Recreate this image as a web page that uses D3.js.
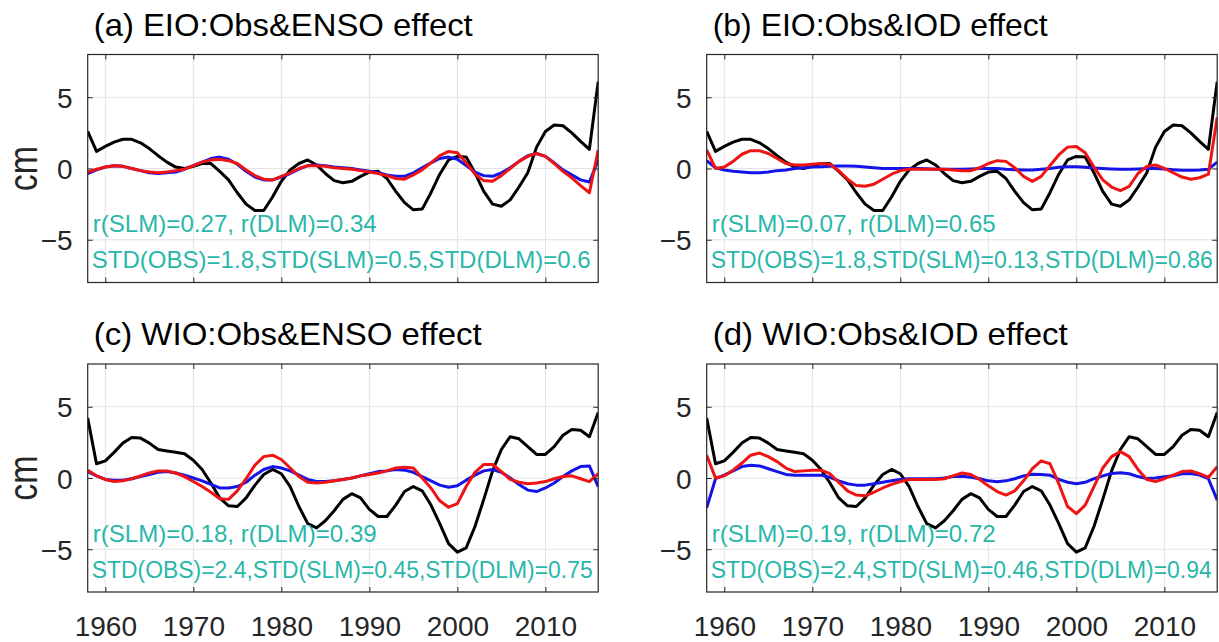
<!DOCTYPE html>
<html>
<head>
<meta charset="utf-8">
<script src="https://cdn.jsdelivr.net/npm/d3@7"></script>
<style>
  body { margin: 0; background: #fff; }
  svg text { font-family: "Liberation Sans", Arial, Helvetica, sans-serif; }
</style>
</head>
<body>
<svg id="chart" width="1219" height="642"></svg>
<script>
// yearly values, 1958-2016
const years = [1958,1959,1960,1961,1962,1963,1964,1965,1966,1967,1968,1969,1970,1971,1972,1973,1974,1975,1976,1977,
  1978,1979,1980,1981,1982,1983,1984,1985,1986,1987,1988,1989,1990,1991,1992,1993,1994,1995,1996,1997,
  1998,1999,2000,2001,2002,2003,2004,2005,2006,2007,2008,2009,2010,2011,2012,2013,2014,2015,2016];

const eioObs = [2.6,1.2,1.55,1.85,2.05,2.05,1.8,1.4,0.9,0.45,0.1,0.0,0.15,0.35,0.35,-0.2,-0.8,-1.7,-2.5,-2.95,
  -2.95,-2.0,-0.9,-0.1,0.35,0.6,0.25,-0.35,-0.85,-1.0,-0.9,-0.55,-0.25,-0.2,-0.7,-1.6,-2.4,-2.9,-2.85,-1.7,
  -0.4,0.6,0.85,0.8,-0.3,-1.6,-2.5,-2.65,-2.2,-1.3,-0.3,1.5,2.6,3.05,3.0,2.5,1.9,1.35,6.1];
const eioEnsoSlm = [-0.35,-0.1,0.1,0.2,0.15,0.0,-0.15,-0.3,-0.35,-0.3,-0.25,-0.05,0.2,0.45,0.7,0.8,0.65,0.3,-0.2,-0.6,
  -0.8,-0.8,-0.6,-0.35,-0.05,0.2,0.25,0.2,0.1,0.05,0.0,-0.1,-0.2,-0.3,-0.45,-0.55,-0.55,-0.3,0.05,0.4,
  0.7,0.8,0.65,0.2,-0.25,-0.5,-0.55,-0.3,0.05,0.5,0.9,1.05,0.85,0.4,-0.1,-0.45,-0.8,-0.95,0.6];
const eioEnsoDlm = [-0.25,-0.05,0.1,0.2,0.15,0.0,-0.15,-0.25,-0.3,-0.25,-0.15,-0.05,0.2,0.45,0.6,0.65,0.55,0.35,-0.1,-0.5,
  -0.75,-0.8,-0.55,-0.3,0.0,0.2,0.2,0.15,0.05,0.0,-0.05,-0.15,-0.25,-0.35,-0.5,-0.7,-0.75,-0.45,-0.1,0.4,
  0.9,1.2,1.1,0.4,-0.4,-0.85,-0.9,-0.5,0.0,0.5,0.85,1.05,0.85,0.35,-0.2,-0.65,-1.2,-1.7,1.3];
const eioIodSlm = [0.55,0.05,-0.1,-0.2,-0.25,-0.3,-0.3,-0.25,-0.15,-0.1,0.0,0.05,0.1,0.12,0.15,0.17,0.17,0.15,0.1,0.05,
  0.0,0.0,0.0,0.0,0.0,-0.02,-0.05,-0.05,-0.05,-0.05,-0.03,0.0,0.0,0.0,-0.05,-0.08,-0.1,-0.1,-0.05,0.0,
  0.08,0.12,0.12,0.08,0.03,0.0,-0.03,-0.05,-0.05,-0.03,0.0,0.0,-0.03,-0.08,-0.12,-0.12,-0.1,-0.05,0.45];
const eioIodDlm = [1.3,0.0,0.1,0.5,1.0,1.25,1.25,1.05,0.7,0.35,0.25,0.25,0.3,0.35,0.3,-0.15,-0.75,-1.2,-1.25,-1.1,
  -0.75,-0.4,-0.15,-0.05,-0.05,-0.05,-0.05,-0.05,-0.1,-0.15,-0.15,0.05,0.35,0.55,0.5,0.05,-0.55,-0.9,-0.55,0.2,
  0.95,1.5,1.55,1.1,0.1,-0.8,-1.3,-1.55,-1.25,-0.35,0.15,0.25,0.0,-0.3,-0.6,-0.75,-0.65,-0.4,3.6];

const wioObs = [4.2,1.0,1.2,1.8,2.45,2.85,2.8,2.45,2.0,1.9,1.8,1.7,1.25,0.6,-0.35,-1.4,-1.95,-2.0,-1.4,-0.5,
  0.25,0.6,0.3,-0.6,-2.0,-3.2,-3.5,-3.0,-2.3,-1.5,-1.1,-1.4,-2.2,-2.7,-2.7,-1.9,-0.95,-0.6,-0.9,-1.9,
  -3.2,-4.6,-5.2,-4.9,-3.4,-1.5,0.5,2.0,2.9,2.75,2.2,1.65,1.65,2.2,3.0,3.4,3.35,2.9,4.6];
const wioEnsoSlm = [0.45,0.15,-0.1,-0.15,-0.15,-0.05,0.1,0.25,0.4,0.45,0.35,0.2,0.0,-0.2,-0.45,-0.7,-0.7,-0.6,-0.3,0.2,
  0.6,0.8,0.7,0.5,0.2,-0.1,-0.25,-0.25,-0.2,-0.1,0.0,0.15,0.3,0.45,0.5,0.6,0.55,0.4,0.1,-0.2,
  -0.5,-0.65,-0.55,-0.15,0.2,0.5,0.6,0.4,0.0,-0.45,-0.85,-0.95,-0.7,-0.35,0.1,0.5,0.8,0.85,-0.6];
const wioEnsoDlm = [0.55,0.15,-0.1,-0.25,-0.2,-0.05,0.15,0.35,0.5,0.5,0.35,0.1,-0.25,-0.6,-1.0,-1.45,-1.5,-0.9,-0.05,0.9,
  1.5,1.6,1.3,0.7,0.1,-0.3,-0.35,-0.3,-0.2,-0.1,0.0,0.15,0.25,0.35,0.5,0.7,0.75,0.7,0.0,-0.7,
  -1.6,-2.05,-1.8,-0.6,0.4,0.95,0.95,0.45,-0.1,-0.3,-0.4,-0.35,-0.25,-0.05,0.1,0.15,-0.05,-0.25,0.3];
const wioIodSlm = [-2.1,-0.05,0.2,0.5,0.8,0.9,0.85,0.65,0.45,0.25,0.2,0.2,0.2,0.2,0.05,-0.2,-0.4,-0.5,-0.5,-0.4,
  -0.3,-0.2,-0.1,-0.05,-0.05,-0.05,-0.05,0.0,0.1,0.12,0.05,-0.05,-0.2,-0.27,-0.2,-0.05,0.15,0.27,0.25,0.2,
  -0.1,-0.3,-0.4,-0.3,-0.05,0.15,0.32,0.37,0.3,0.1,-0.03,0.0,0.08,0.15,0.3,0.32,0.2,-0.05,-1.55];
const wioIodDlm = [1.6,0.0,0.15,0.55,1.05,1.6,1.75,1.5,1.15,0.7,0.45,0.5,0.55,0.55,0.3,-0.3,-0.9,-1.2,-1.25,-1.0,
  -0.7,-0.45,-0.25,-0.1,-0.1,-0.1,-0.1,-0.05,0.15,0.35,0.25,-0.1,-0.55,-0.95,-1.2,-0.9,-0.2,0.65,1.2,1.0,
  -0.4,-2.0,-2.5,-1.9,-0.6,0.7,1.5,1.85,1.5,0.6,-0.1,-0.25,-0.05,0.2,0.45,0.5,0.3,0.05,0.8];

const yearTicks = [1960, 1970, 1980, 1990, 2000, 2010];
const valueTicks = [-5, 0, 5];
const titles = ["(a) EIO:Obs&ENSO effect", "(b) EIO:Obs&IOD effect", "(c) WIO:Obs&ENSO effect", "(d) WIO:Obs&IOD effect"];
const rTexts = ["r(SLM)=0.27, r(DLM)=0.34", "r(SLM)=0.07, r(DLM)=0.65", "r(SLM)=0.18, r(DLM)=0.39", "r(SLM)=0.19, r(DLM)=0.72"];
const stdTexts = ["STD(OBS)=1.8,STD(SLM)=0.5,STD(DLM)=0.6", "STD(OBS)=1.8,STD(SLM)=0.13,STD(DLM)=0.86",
  "STD(OBS)=2.4,STD(SLM)=0.45,STD(DLM)=0.75", "STD(OBS)=2.4,STD(SLM)=0.46,STD(DLM)=0.94"];

// panel layout (text widths measured on the figure)
const panels = [
  {left: 87.7, top: 54.5, obs: eioObs, slm: eioEnsoSlm, dlm: eioEnsoDlm, ylab: true, xlab: false, tw: 379, sw: 499, sf: 24},
  {left: 706.7, top: 54.5, obs: eioObs, slm: eioIodSlm, dlm: eioIodDlm, ylab: false, xlab: false, tw: 335, sw: 502, sf: 23},
  {left: 87.7, top: 364, obs: wioObs, slm: wioEnsoSlm, dlm: wioEnsoDlm, ylab: true, xlab: true, tw: 388, sw: 501, sf: 23},
  {left: 706.7, top: 364, obs: wioObs, slm: wioIodSlm, dlm: wioIodDlm, ylab: false, xlab: true, tw: 355, sw: 501, sf: 23}
];

const W = 510.5, H = 228;
const axisColor = "#262626", gridColor = "#e3e3e3", noteColor = "#2ab7aa";

const svg = d3.select("#chart");

const x = d3.scaleLinear().domain([1958, 2016]).range([0, W]);
const y = d3.scaleLinear().domain([-8, 8]).range([H, 0]);

panels.forEach((p, i) => {
  const g = svg.append("g").attr("transform", "translate(" + p.left + "," + p.top + ")");

  // grid
  g.selectAll(".vg").data(yearTicks).enter().append("line")
    .attr("x1", d => x(d)).attr("x2", d => x(d)).attr("y1", 0).attr("y2", H)
    .attr("stroke", gridColor).attr("stroke-width", 1);
  g.selectAll(".hg").data(valueTicks).enter().append("line")
    .attr("x1", 0).attr("x2", W).attr("y1", d => y(d)).attr("y2", d => y(d))
    .attr("stroke", gridColor).attr("stroke-width", 1);

  // lines
  const line = d3.line().x((d, j) => x(years[j])).y(d => y(d));
  const clip = "clip" + i;
  g.append("clipPath").attr("id", clip).append("rect").attr("width", W).attr("height", H);
  const lg = g.append("g").attr("clip-path", "url(#" + clip + ")");
  [[p.obs, "#000000"], [p.slm, "#1414e8"], [p.dlm, "#ee1414"]].forEach(s => {
    lg.append("path").datum(s[0]).attr("d", line)
      .attr("fill", "none").attr("stroke", s[1]).attr("stroke-width", 3)
      .attr("stroke-linejoin", "round");
  });

  // axes with inward ticks, box on
  const tickLen = 5;
  const bottom = d3.axisBottom(x).tickValues(yearTicks).tickSizeInner(-tickLen).tickSizeOuter(0)
    .tickFormat(p.xlab ? d3.format("d") : "");
  const top = d3.axisTop(x).tickValues(yearTicks).tickSizeInner(-tickLen).tickSizeOuter(0).tickFormat("");
  const left = d3.axisLeft(y).tickValues(valueTicks).tickSizeInner(-tickLen).tickSizeOuter(0)
    .tickFormat(d3.format("d"));
  const right = d3.axisRight(y).tickValues(valueTicks).tickSizeInner(-tickLen).tickSizeOuter(0).tickFormat("");

  const gb = g.append("g").attr("transform", "translate(0," + H + ")").call(bottom);
  g.append("g").call(top);
  const gl = g.append("g").call(left);
  g.append("g").attr("transform", "translate(" + W + ",0)").call(right);

  g.selectAll(".domain").remove();
  g.selectAll(".tick line").attr("stroke", axisColor);

  gb.selectAll("text").attr("font-size", 28).attr("fill", axisColor)
    .attr("y", 0).attr("dy", 44).attr("font-family", "Liberation Sans, Arial, sans-serif");
  gl.selectAll("text").attr("font-size", 28).attr("fill", axisColor)
    .attr("x", -15).attr("dy", "0.36em").attr("font-family", "Liberation Sans, Arial, sans-serif");

  g.append("rect").attr("width", W).attr("height", H)
    .attr("fill", "none").attr("stroke", axisColor).attr("stroke-width", 1.2);

  // title
  g.append("text").attr("x", 6).attr("y", -19)
    .attr("font-size", 32).attr("fill", "#000")
    .attr("textLength", p.tw).attr("lengthAdjust", "spacingAndGlyphs").text(titles[i]);

  // stats text
  g.append("text").attr("x", 5).attr("y", 177.5)
    .attr("font-size", 24).attr("fill", noteColor)
    .attr("textLength", 284).attr("lengthAdjust", "spacingAndGlyphs").text(rTexts[i]);
  g.append("text").attr("x", 4).attr("y", 213.5)
    .attr("font-size", p.sf).attr("fill", noteColor)
    .attr("textLength", p.sw).attr("lengthAdjust", "spacingAndGlyphs").text(stdTexts[i]);

  if (p.ylab) {
    g.append("text")
      .attr("transform", "translate(" + (-51) + "," + (H / 2) + ") rotate(-90) scale(1,1.2)")
      .attr("text-anchor", "middle")
      .attr("font-size", 34).attr("fill", axisColor).text("cm");
  }
});
</script>
</body>
</html>
